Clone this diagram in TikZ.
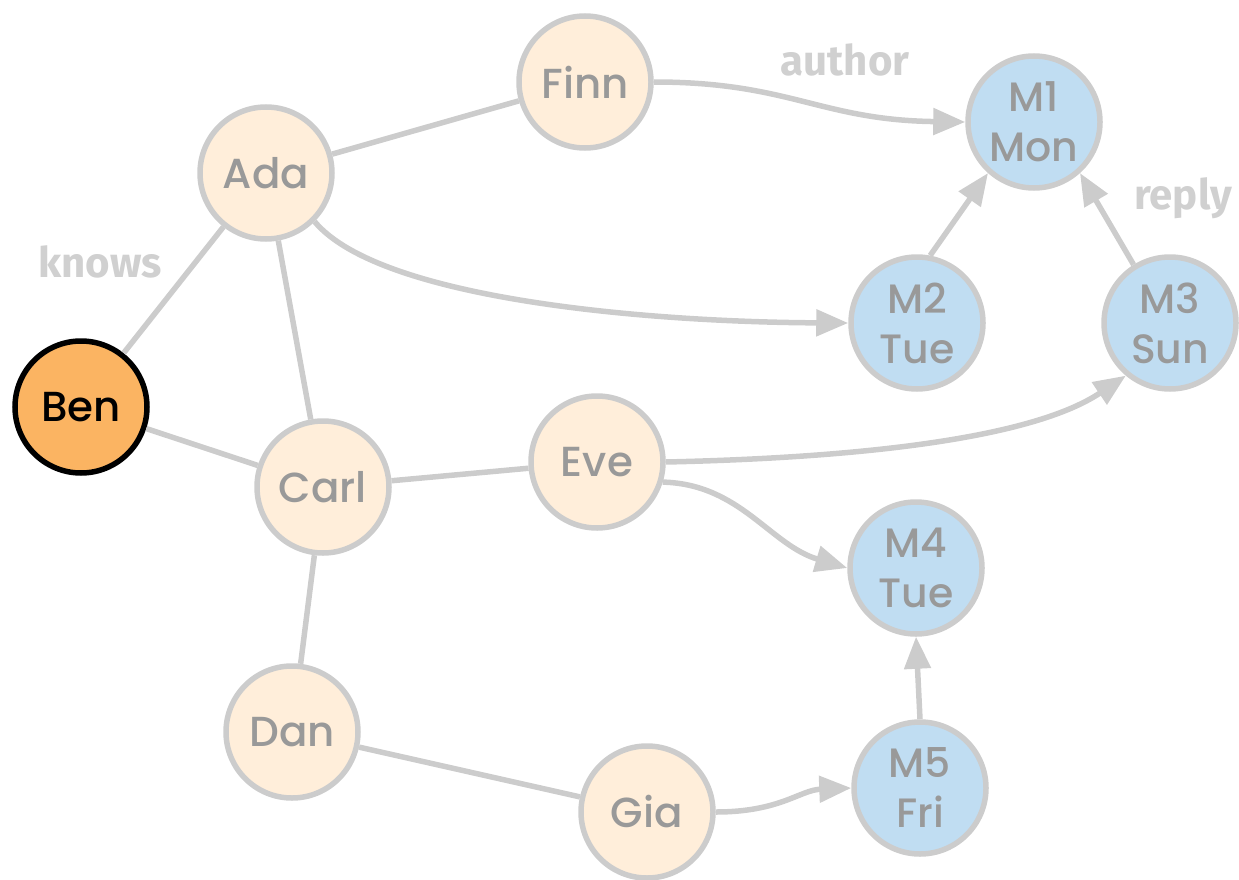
\documentclass[tikz,border=0pt]{standalone}
\usepackage{fontspec}
\setmainfont{Poppins}[UprightFont={* Medium}]
\newfontfamily\labfont{Fira Sans}
\usetikzlibrary{arrows.meta}
\definecolor{edgegray}{HTML}{CCCCCC}
\definecolor{textgray}{HTML}{999999}
\definecolor{cream}{HTML}{FFEEDA}
\definecolor{msgblue}{HTML}{C0DDF2}
\definecolor{benorange}{HTML}{FBB462}
\definecolor{labgray}{HTML}{D0D0D0}
\tikzset{
  person/.style={circle, draw=edgegray, line width=5.5pt, fill=cream, minimum size=132pt, inner sep=0pt, text=textgray, font=\fontsize{42}{48}\selectfont},
  focus/.style={circle, draw=black, line width=5.5pt, fill=benorange, minimum size=132pt, inner sep=0pt, text=black, font=\fontsize{42}{48}\selectfont},
  msg/.style={circle, draw=edgegray, line width=5.5pt, fill=msgblue, minimum size=132pt, inner sep=0pt, text=textgray, align=center, font=\fontsize{41}{50}\selectfont},
  link/.style={draw=edgegray, line width=5.5pt},
  arr/.style={draw=edgegray, line width=5.5pt, -{Triangle[length=32pt,width=26pt]}},
  elabel/.style={text=labgray, font=\labfont\bfseries\fontsize{42}{44}\selectfont}
}
\begin{document}
\begin{tikzpicture}[x=1pt,y=-1pt]
\useasboundingbox (0,0) rectangle (1239,880);
\node[person] (Finn) at (585,82) {Finn};
\node[person] (Ada) at (266,173) {Ada};
\node[msg] (M1) at (1034,122) {M1\\Mon};
\node[msg] (M2) at (917,323) {M2\\Tue};
\node[msg] (M3) at (1170,323) {M3\\Sun};
\node[focus] (Ben) at (81,407) {Ben};
\node[person] (Carl) at (323,487) {Carl};
\node[person] (Eve) at (597,462) {Eve};
\node[msg] (M4) at (916,568) {M4\\Tue};
\node[person] (Dan) at (292,732) {Dan};
\node[person] (Gia) at (647,812) {Gia};
\node[msg] (M5) at (920,788) {M5\\Fri};
\draw[link] (Ada) -- (Finn);
\draw[link] (Ada) -- (Ben);
\draw[link] (Ada) -- (Carl);
\draw[link] (Ben) -- (Carl);
\draw[link] (Carl) -- (Eve);
\draw[link] (Carl) -- (Dan);
\draw[link] (Dan) -- (Gia);
\draw[arr] (Finn.east) .. controls (790,82) and (820,120) .. (M1.west);
\draw[arr] (Ada.-45) .. controls (380,300) and (650,322) .. (M2.west);
\draw[arr] (Eve.east) .. controls (850,458) and (1030,440) .. (M3.-130);
\draw[arr] (Eve.-17) .. controls (740,484) and (770,545) .. (M4.west);
\draw[arr] (Gia.east) .. controls (780,812) and (800,790) .. (M5.west);
\draw[arr] (M2.79) -- (M1.-132);
\draw[arr] (M3.122) -- (M1.-48);
\draw[arr] (M5.north) -- (M4.south);
\node[elabel] (lauthor) at (845,60) {author};
\node[elabel] (lknows) at (100,262) {knows};
\node[elabel] (lreply) at (1183,198) {reply};
\end{tikzpicture}
\end{document}
